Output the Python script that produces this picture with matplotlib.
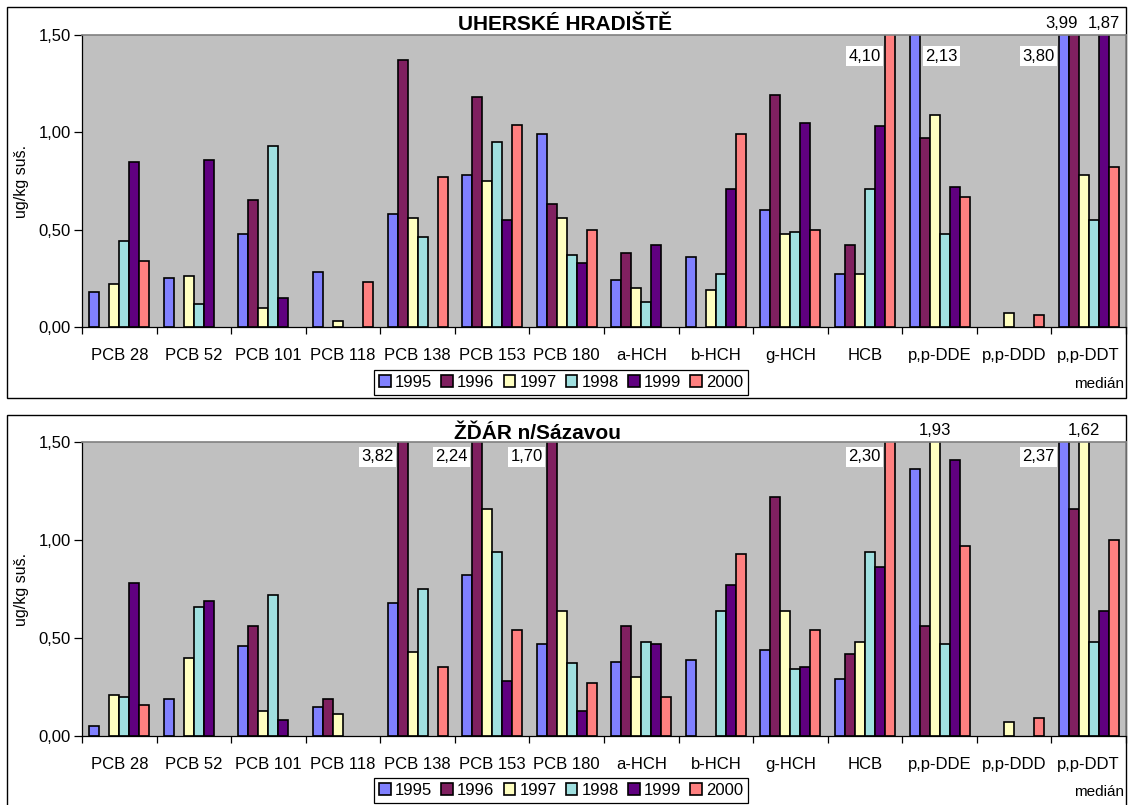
import numpy as np
import matplotlib
matplotlib.use("Agg")
import matplotlib.pyplot as plt
from matplotlib.patches import Rectangle

plt.rcParams['font.family'] = ['Liberation Sans', 'DejaVu Sans']

W, H = 1130, 805

CATEGORIES = ['PCB 28', 'PCB 52', 'PCB 101', 'PCB 118', 'PCB 138', 'PCB 153', 'PCB 180',
              'a-HCH', 'b-HCH', 'g-HCH', 'HCB', 'p,p-DDE', 'p,p-DDD', 'p,p-DDT']
YEARS = ['1995', '1996', '1997', '1998', '1999', '2000']
COLORS = ['#8080FF', '#802060', '#FFFFC0', '#A0E0E0', '#600080', '#FF8080']

N = None
# Uherské Hradiště, medián ug/kg suš.
uh_1995 = [0.18, 0.25, 0.48, 0.28, 0.58, 0.78, 0.99, 0.24, 0.36, 0.60, 0.27, 2.13, N, 3.80]
uh_1996 = [N, N, 0.65, N, 1.37, 1.18, 0.63, 0.38, N, 1.19, 0.42, 0.97, N, 3.99]
uh_1997 = [0.22, 0.26, 0.10, 0.03, 0.56, 0.75, 0.56, 0.20, 0.19, 0.48, 0.27, 1.09, 0.07, 0.78]
uh_1998 = [0.44, 0.12, 0.93, N, 0.46, 0.95, 0.37, 0.13, 0.27, 0.49, 0.71, 0.48, N, 0.55]
uh_1999 = [0.85, 0.86, 0.15, N, N, 0.55, 0.33, 0.42, 0.71, 1.05, 1.03, 0.72, N, 1.87]
uh_2000 = [0.34, N, N, 0.23, 0.77, 1.04, 0.50, N, 0.99, 0.50, 4.10, 0.67, 0.06, 0.82]

# Žďár n/Sázavou
zd_1995 = [0.05, 0.19, 0.46, 0.15, 0.68, 0.82, 0.47, 0.38, 0.39, 0.44, 0.29, 1.36, N, 2.37]
zd_1996 = [N, N, 0.56, 0.19, 3.82, 2.24, 1.70, 0.56, N, 1.22, 0.42, 0.56, N, 1.16]
zd_1997 = [0.21, 0.40, 0.13, 0.11, 0.43, 1.16, 0.64, 0.30, N, 0.64, 0.48, 1.93, 0.07, 1.62]
zd_1998 = [0.20, 0.66, 0.72, N, 0.75, 0.94, 0.37, 0.48, 0.64, 0.34, 0.94, 0.47, N, 0.48]
zd_1999 = [0.78, 0.69, 0.08, N, N, 0.28, 0.13, 0.47, 0.77, 0.35, 0.86, 1.41, N, 0.64]
zd_2000 = [0.16, N, N, N, 0.35, 0.54, 0.27, 0.20, 0.93, 0.54, 2.30, 0.97, 0.09, 1.00]

# values off the scale: (category, year, placement, x shift in points)
uh_labels = [(10, 5, 'left', 0), (11, 0, 'right', 0), (13, 0, 'left', 0),
             (13, 1, 'above', -9), (13, 4, 'above', 0)]
zd_labels = [(4, 1, 'left', 0), (5, 1, 'left', 0), (6, 1, 'left', 0), (10, 5, 'left', 0),
             (11, 2, 'above', 0), (13, 0, 'left', 0), (13, 2, 'above', 0)]

BAR_W = 0.134
YMAX = 1.5


def fmt(v):
    return f"{v:.2f}".replace('.', ',')


def px_rect(left, top, right, bottom):
    return [left / W, 1 - bottom / H, (right - left) / W, (bottom - top) / H]


def draw_panel(fig, box, plot, series, labels, title, title_xy, label_y, legend_top):
    l, t, r, b = box
    fig.add_artist(Rectangle((l / W, 1 - b / H), (r - l) / W, (b - t) / H,
                             transform=fig.transFigure, fill=False,
                             edgecolor='black', linewidth=1.0, zorder=0))
    ax = fig.add_axes(px_rect(*plot))
    ax.set_facecolor('#C0C0C0')
    x = np.arange(len(CATEGORIES))
    bars = []
    for j, (year, vals) in enumerate(zip(YEARS, series)):
        v = np.array([np.nan if a is None else a for a in vals], dtype=float)
        bc = ax.bar(x + (j - 2.5) * BAR_W, v, width=BAR_W, color=COLORS[j],
                    edgecolor='black', linewidth=1.2, label=year, zorder=2)
        bars.append(bc)

    ax.set_xlim(-0.5, len(CATEGORIES) - 0.5)
    ax.set_ylim(0, YMAX)
    ax.set_yticks([0, 0.5, 1.0, 1.5])
    ax.set_yticklabels([fmt(v) for v in [0, 0.5, 1.0, 1.5]], fontsize=12)
    ax.tick_params(axis='y', length=6, width=0.9, pad=2)
    ax.set_xticks(x)
    ax.set_xticklabels(CATEGORIES, fontsize=12)
    ax.set_xticks(np.arange(-0.5, len(CATEGORIES) - 0.4, 1.0), minor=True)
    ax.tick_params(axis='x', which='major', length=0, pad=15)
    ax.tick_params(axis='x', which='minor', length=5, width=0.9, direction='out')
    for side in ('top', 'right'):
        ax.spines[side].set_color('#808080')
        ax.spines[side].set_linewidth(1.2)
    ax.spines['left'].set_linewidth(0.9)
    ax.spines['bottom'].set_linewidth(0.9)

    for ci, yi, place, dx in labels:
        val = series[yi][ci]
        xc = ci + (yi - 2.5) * BAR_W
        box_style = dict(boxstyle='square,pad=0.15', facecolor='white', edgecolor='none')
        if place == 'left':
            ax.annotate(fmt(val), xy=(xc - BAR_W / 2, label_y), xytext=(-3 + dx, 0),
                        textcoords='offset points', ha='right', va='center',
                        fontsize=12, bbox=box_style, zorder=5)
        elif place == 'right':
            ax.annotate(fmt(val), xy=(xc + BAR_W / 2, label_y), xytext=(4 + dx, 0),
                        textcoords='offset points', ha='left', va='center',
                        fontsize=12, bbox=box_style, zorder=5)
        else:
            ax.annotate(fmt(val), xy=(xc, YMAX), xytext=(dx, 8),
                        textcoords='offset points', ha='center', va='center',
                        fontsize=12, annotation_clip=False, zorder=5)

    fig.text(title_xy[0] / W, 1 - title_xy[1] / H, title, ha='center', va='center',
             fontsize=15, fontweight='bold')
    fig.text(22 / W, 1 - (plot[1] + plot[3]) / 2 / H, 'ug/kg suš.', rotation=90,
             ha='center', va='center', fontsize=11.5)
    fig.text(1124 / W, 1 - (legend_top + 14) / H, 'medián', ha='right', va='center',
             fontsize=11)

    leg = ax.legend(handles=bars, loc='upper left', ncol=6,
                    bbox_to_anchor=(374 / W, 1 - legend_top / H),
                    bbox_transform=fig.transFigure, fontsize=12, frameon=True,
                    fancybox=False, edgecolor='black', framealpha=1,
                    handlelength=0.7, handleheight=0.7, handletextpad=0.25,
                    columnspacing=0.55, borderpad=0.3, borderaxespad=0)
    leg.get_frame().set_linewidth(0.9)
    return ax


fig = plt.figure(figsize=(W / 100, H / 100), dpi=100)

draw_panel(fig, (7, 7, 1126, 398), (82, 35, 1126, 327),
           [uh_1995, uh_1996, uh_1997, uh_1998, uh_1999, uh_2000], uh_labels,
           'UHERSKÉ HRADIŠTĚ', (565, 25), 1.39, 370)

draw_panel(fig, (7, 415, 1126, 808), (82, 442, 1126, 736),
           [zd_1995, zd_1996, zd_1997, zd_1998, zd_1999, zd_2000], zd_labels,
           'ŽĎÁR n/Sázavou', (538, 433), 1.425, 778)

fig.savefig('out.png', dpi=100, facecolor='white')
